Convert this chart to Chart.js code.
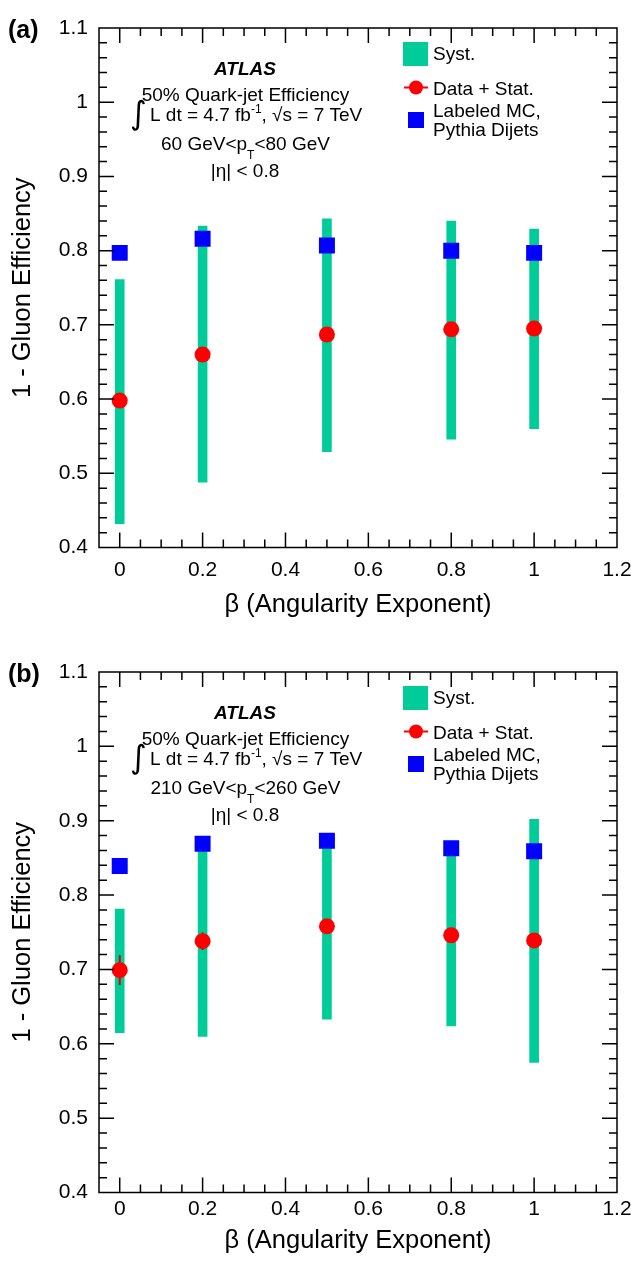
<!DOCTYPE html>
<html>
<head>
<meta charset="utf-8">
<script src="https://cdn.jsdelivr.net/npm/chart.js@4.4.0/dist/chart.umd.min.js"></script>
<style>
  html, body { margin: 0; padding: 0; background: #fff; }
  canvas { display: block; }
</style>
</head>
<body>
<canvas id="chartA" width="631" height="644"></canvas>
<canvas id="chartB" width="631" height="618"></canvas>
<script>
// ---------------- data ----------------
const betaVals = [0, 0.2, 0.5, 0.8, 1.0];

// (a) 60 GeV < pT < 80 GeV
const dataA = [0.598, 0.660, 0.687, 0.694, 0.695];
const statA = [0.010, 0.006, 0.005, 0.005, 0.005];
const systLowA = [0.432, 0.488, 0.529, 0.546, 0.560];
const systHighA = [0.761, 0.833, 0.843, 0.840, 0.829];
const mcA = [0.797, 0.816, 0.807, 0.800, 0.797];

// (b) 210 GeV < pT < 260 GeV
const dataB = [0.699, 0.738, 0.758, 0.746, 0.739];
const statB = [0.020, 0.012, 0.008, 0.008, 0.008];
const systLowB = [0.615, 0.610, 0.633, 0.624, 0.575];
const systHighB = [0.781, 0.860, 0.865, 0.855, 0.902];
const mcB = [0.839, 0.869, 0.873, 0.863, 0.859];

const xTicks = [0, 0.2, 0.4, 0.6, 0.8, 1, 1.2];
const yTicks = [0.4, 0.5, 0.6, 0.7, 0.8, 0.9, 1, 1.1];

const FONT = "'Liberation Sans', Arial, Helvetica, sans-serif";
const SYST_COLOR = "#00cc99";

const fmt = (v) => String(Math.round(v * 10) / 10);

// ---------------- plugins ----------------
// frame + inward ticks on all four sides
const frameTicks = {
  id: "frameTicks",
  afterDatasetsDraw(chart) {
    const { ctx, chartArea: a, scales: { x, y } } = chart;
    ctx.save();
    ctx.strokeStyle = "#000";
    ctx.lineWidth = 1.5;
    ctx.beginPath();
    for (let i = 1; i < 35; i++) {
      const py = y.getPixelForValue(0.4 + i * 0.02);
      const len = i % 5 === 0 ? 15 : 8;
      ctx.moveTo(a.left, py);
      ctx.lineTo(a.left + len, py);
      ctx.moveTo(a.right, py);
      ctx.lineTo(a.right - len, py);
    }
    for (let i = 0; i < 24; i++) {
      const px = x.getPixelForValue(i * 0.05);
      const len = i % 4 === 0 ? 15 : 8;
      ctx.moveTo(px, a.bottom);
      ctx.lineTo(px, a.bottom - len);
      ctx.moveTo(px, a.top);
      ctx.lineTo(px, a.top + len);
    }
    ctx.stroke();
    ctx.strokeRect(a.left, a.top, a.right - a.left, a.bottom - a.top);
    ctx.restore();
  },
};

// statistical error bars under the red points
const statErrors = {
  id: "statErrors",
  beforeDatasetDraw(chart, args) {
    const ds = chart.data.datasets[args.index];
    if (!ds.statErr) return;
    const { ctx, scales: { x, y } } = chart;
    ctx.save();
    ctx.strokeStyle = "#e00000";
    ctx.lineWidth = 2;
    ctx.beginPath();
    ds.data.forEach((pt, i) => {
      const px = x.getPixelForValue(pt.x);
      ctx.moveTo(px, y.getPixelForValue(pt.y - ds.statErr[i]));
      ctx.lineTo(px, y.getPixelForValue(pt.y + ds.statErr[i]));
    });
    ctx.stroke();
    ctx.restore();
  },
};

// text pieces with sub/superscripts: [text, size, dy]
function drawParts(ctx, parts, x, base, align) {
  let total = 0;
  parts.forEach((p) => {
    ctx.font = p[1] + "px " + FONT;
    total += ctx.measureText(p[0]).width;
  });
  let cx = align === "center" ? x - total / 2 : x;
  parts.forEach((p) => {
    ctx.font = p[1] + "px " + FONT;
    ctx.fillText(p[0], cx, base + p[2]);
    cx += ctx.measureText(p[0]).width;
  });
}

// ATLAS label, cuts, panel letter and legend
const infoBox = {
  id: "infoBox",
  afterDraw(chart, args, opts) {
    const ctx = chart.ctx;
    ctx.save();
    ctx.fillStyle = "#000";
    ctx.textBaseline = "alphabetic";
    ctx.textAlign = "left";

    ctx.font = "bold 25px " + FONT;
    ctx.fillText(opts.panel, 8, 38);

    ctx.font = "italic bold 19px " + FONT;
    const w = ctx.measureText("ATLAS").width;
    ctx.fillText("ATLAS", 245 - w / 2, 74.5);

    drawParts(ctx, [["50% Quark-jet Efficiency", 19, 0]], 245.5, 101, "center");
    ctx.font = "32px 'DejaVu Sans'";
    ctx.fillText("∫", 130, 124);
    drawParts(ctx, [["L dt = 4.7 fb", 19, 0], ["-1", 12, -8], [", √s = 7 TeV", 19, 0]], 150, 121, "left");
    drawParts(ctx, [[opts.ptLow + " GeV<p", 19, 0], ["T", 12, 9], ["<" + opts.ptHigh + " GeV", 19, 0]], 245.5, 150, "center");
    drawParts(ctx, [["|η| < 0.8", 19, 0]], 245, 177, "center");

    // legend
    ctx.fillStyle = SYST_COLOR;
    ctx.fillRect(403, 42, 25, 24);
    ctx.strokeStyle = "#ff0000";
    ctx.lineWidth = 2;
    ctx.beginPath();
    ctx.moveTo(404, 87.5);
    ctx.lineTo(428, 87.5);
    ctx.stroke();
    ctx.fillStyle = "#ff0000";
    ctx.beginPath();
    ctx.arc(416, 87.5, 7, 0, Math.PI * 2);
    ctx.fill();
    ctx.fillStyle = "#0000ff";
    ctx.fillRect(408, 112, 16, 16);

    ctx.fillStyle = "#000";
    ctx.font = "19px " + FONT;
    ctx.fillText("Syst.", 433, 60);
    ctx.fillText("Data + Stat.", 433, 95);
    ctx.fillText("Labeled MC,", 433, 116.5);
    ctx.fillText("Pythia Dijets", 433, 136);
    ctx.restore();
  },
};

// ---------------- panel ----------------
function makePanel(canvasId, p) {
  const xh = p.canvasH - p.plotBottom;
  return new Chart(document.getElementById(canvasId), {
    type: "bar",
    data: {
      datasets: [
        {
          type: "scatter",
          label: "Labeled MC, Pythia Dijets",
          data: betaVals.map((b, i) => ({ x: b, y: p.mc[i] })),
          pointStyle: "rect",
          pointRadius: 11.3,
          backgroundColor: "#0000ff",
          borderWidth: 0,
          order: 0,
        },
        {
          type: "scatter",
          label: "Data + Stat.",
          data: betaVals.map((b, i) => ({ x: b, y: p.data[i] })),
          statErr: p.stat,
          pointStyle: "circle",
          pointRadius: 8,
          backgroundColor: "#ff0000",
          borderWidth: 0,
          order: 1,
        },
        {
          type: "bar",
          label: "Syst.",
          data: betaVals.map((b, i) => ({ x: b, y: [p.lo[i], p.hi[i]] })),
          backgroundColor: SYST_COLOR,
          borderWidth: 0,
          barThickness: 9,
          grouped: false,
          order: 2,
        },
      ],
    },
    options: {
      responsive: false,
      animation: false,
      events: [],
      layout: { padding: { left: 0, right: 14, top: 28, bottom: 0 } },
      plugins: {
        legend: { display: false },
        tooltip: { enabled: false },
        infoBox: { panel: p.panel, ptLow: p.ptLow, ptHigh: p.ptHigh },
      },
      scales: {
        x: {
          type: "linear",
          min: -0.05,
          max: 1.2,
          offset: false,
          grid: { display: false, drawTicks: false },
          border: { display: false },
          afterBuildTicks: (s) => {
            s.ticks = xTicks.map((v) => ({ value: v }));
          },
          ticks: {
            font: { family: FONT, size: 21 },
            color: "#000",
            padding: p.xTickPad,
            maxRotation: 0,
            autoSkip: false,
            callback: (v) => fmt(v),
          },
          afterFit: (s) => {
            s.height = xh;
            s.paddingLeft = 0;
            s.paddingRight = 0;
          },
          title: {
            display: true,
            text: "β (Angularity Exponent)",
            color: "#000",
            font: { family: FONT, size: 25.5, lineHeight: 1 },
            padding: { top: 0, bottom: p.xTitlePad },
          },
        },
        y: {
          type: "linear",
          min: 0.4,
          max: 1.1,
          grid: { display: false, drawTicks: false },
          border: { display: false },
          afterBuildTicks: (s) => {
            s.ticks = yTicks.map((v) => ({ value: v }));
          },
          ticks: {
            font: { family: FONT, size: 21 },
            color: "#000",
            padding: 11,
            autoSkip: false,
            callback: (v) => fmt(v),
          },
          afterFit: (s) => {
            s.width = 99;
            s.paddingTop = 0;
            s.paddingBottom = 0;
          },
          title: {
            display: true,
            text: "1 - Gluon Efficiency",
            color: "#000",
            font: { family: FONT, size: 25.5, lineHeight: 1 },
            padding: { top: 10.5, bottom: 0 },
          },
        },
      },
    },
    plugins: [statErrors, frameTicks, infoBox],
  });
}

makePanel("chartA", {
  panel: "(a)", ptLow: "60", ptHigh: "80",
  data: dataA, stat: statA, lo: systLowA, hi: systHighA, mc: mcA,
  canvasH: 644, plotBottom: 547.5, xTickPad: 10, xTitlePad: 26.75,
});
makePanel("chartB", {
  panel: "(b)", ptLow: "210", ptHigh: "260",
  data: dataB, stat: statB, lo: systLowB, hi: systHighB, mc: mcB,
  canvasH: 618, plotBottom: 548.5, xTickPad: 4, xTitlePad: 8.75,
});
</script>
</body>
</html>
